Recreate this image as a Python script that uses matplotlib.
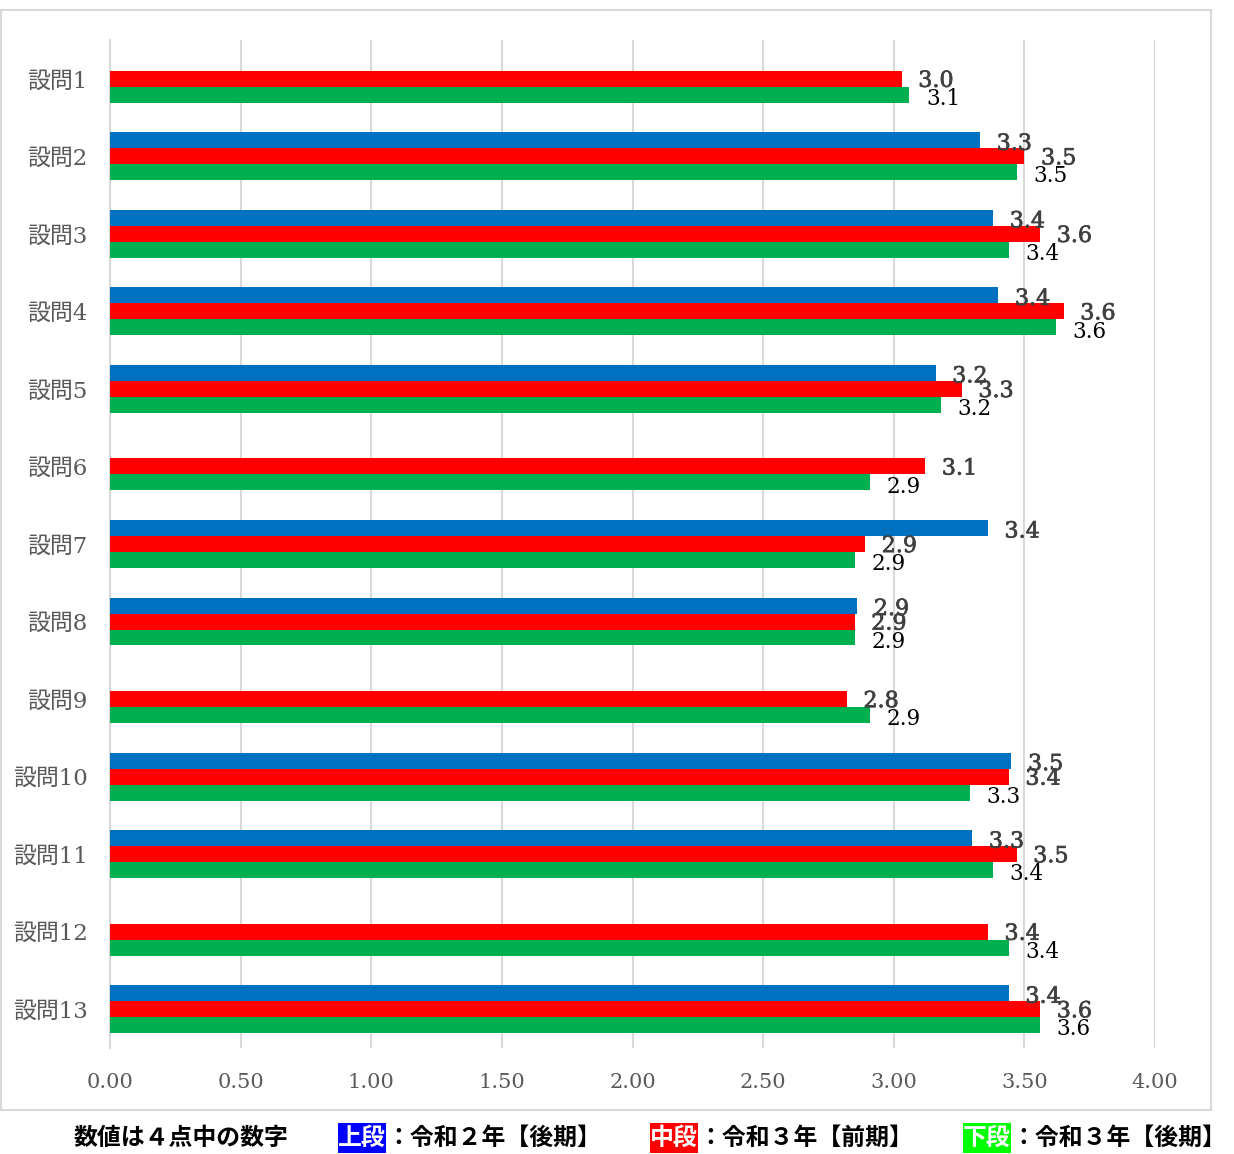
import numpy as np
import matplotlib
matplotlib.use("Agg")
import matplotlib.pyplot as plt
from matplotlib.patches import Rectangle
import matplotlib.patheffects as pe

categories = ["設問1", "設問2", "設問3", "設問4", "設問5", "設問6", "設問7",
              "設問8", "設問9", "設問10", "設問11", "設問12", "設問13"]
# 上段：令和２年【後期】
blue_vals = [np.nan, 3.33, 3.38, 3.40, 3.16, np.nan, 3.36,
             2.86, np.nan, 3.45, 3.30, np.nan, 3.44]
# 中段：令和３年【前期】
red_vals = [3.03, 3.50, 3.56, 3.65, 3.26, 3.12, 2.89,
            2.85, 2.82, 3.44, 3.47, 3.36, 3.56]
# 下段：令和３年【後期】
green_vals = [3.06, 3.47, 3.44, 3.62, 3.18, 2.91, 2.85,
              2.85, 2.91, 3.29, 3.38, 3.44, 3.56]
xticks = [0.0, 0.5, 1.0, 1.5, 2.0, 2.5, 3.0, 3.5, 4.0]

W, H = 1234, 1154
fig = plt.figure(figsize=(W / 100, H / 100), dpi=100)
fig.patch.set_facecolor("white")

ax = fig.add_axes([110 / W, 1 - 1048 / H, (1155 - 110) / W, (1048 - 40) / H])

y = np.arange(len(categories))
bh = 0.206
series = [
    (blue_vals, -bh, "#0070C0", "#404040", 16, 2.5, True),
    (red_vals, 0.0, "#FF0000", "#404040", 16, 1.5, True),
    (green_vals, bh, "#00B050", "#000000", 15.5, 3.0, False),
]
for vals, off, col, tcol, fs, dy, bold in series:
    v = np.array(vals, dtype=float)
    ax.barh(y + off, v, height=bh, color=col, edgecolor="none", zorder=3)
    for yi, vi in zip(y, v):
        if np.isnan(vi):
            continue
        t = ax.annotate(f"{vi:.1f}", xy=(vi, yi + off), xytext=(12, -dy),
                        textcoords="offset points", va="center", ha="left",
                        fontsize=fs, color=tcol, family="DejaVu Serif", zorder=4)
        if bold:
            t.set_path_effects([pe.withStroke(linewidth=0.5, foreground=tcol)])

ax.set_xlim(0, 4.0)
ax.set_ylim(len(categories) - 0.5, -0.5)
ax.set_xticks(xticks)
ax.set_xticklabels([f"{t:.2f}" for t in xticks], family="DejaVu Serif",
                   fontsize=15, color="#595959")
ax.set_yticks(y)
ax.set_yticklabels(categories, family=["DejaVu Serif", "Noto Sans CJK JP"],
                   fontsize=16.5, color="#595959")
ax.tick_params(axis="x", length=0, pad=18)
ax.tick_params(axis="y", length=0, pad=16)
ax.grid(axis="x", color="#D9D9D9", linewidth=1.5, zorder=0)
ax.set_axisbelow(True)
for s in ["top", "right", "bottom"]:
    ax.spines[s].set_visible(False)
ax.spines["left"].set_color("#D9D9D9")
ax.spines["left"].set_linewidth(1.5)

# outer frame
fig.add_artist(Rectangle((0.5 / W, 1 - 1110 / H), 1210 / W, 1100 / H,
                         transform=fig.transFigure, fill=False,
                         edgecolor="#D9D9D9", linewidth=1.5))

# legend line
ly = 1 - 1138 / H
lfont = dict(family=["Noto Sans CJK JP", "DejaVu Sans"], fontsize=17.2,
             fontweight="bold", va="center", ha="left")
fig.text(73 / W, ly, "数値は４点中の数字", color="black", **lfont)
legend_items = [
    (338, "上段", "#0000FF", "：令和２年【後期】"),
    (650, "中段", "#FF0000", "：令和３年【前期】"),
    (963, "下段", "#00FF00", "：令和３年【後期】"),
]
for x0, tag, col, txt in legend_items:
    fig.add_artist(Rectangle((x0 / W, 1 - 1153 / H), 48 / W, 30 / H,
                             transform=fig.transFigure, facecolor=col,
                             edgecolor="none"))
    fig.text(x0 / W, ly, tag, color="white", **lfont)
    fig.text((x0 + 48) / W, ly, txt, color="black", **lfont)

fig.savefig("out.png", dpi=100)
